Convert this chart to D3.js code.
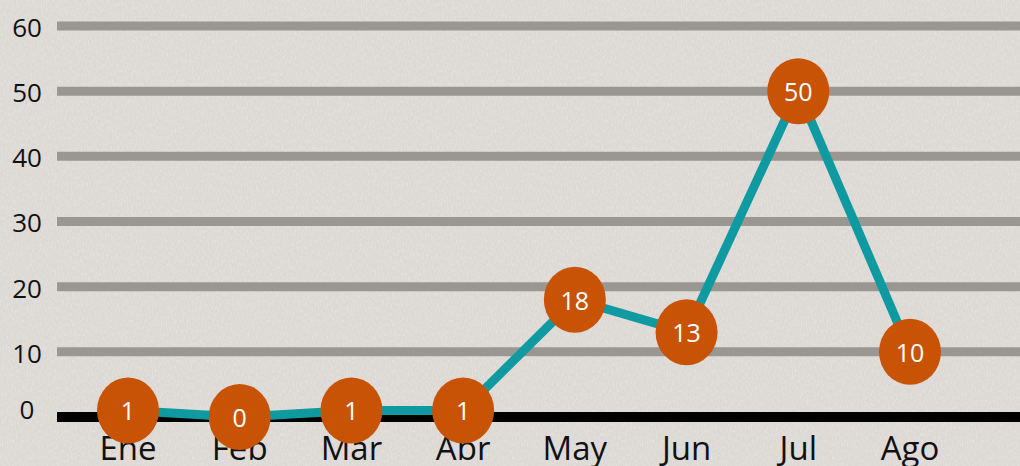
<!DOCTYPE html>
<html>
<head>
<meta charset="utf-8">
<script src="https://cdn.jsdelivr.net/npm/d3@7"></script>
<style>
  html, body { margin: 0; padding: 0; background: #dfdbd7; }
  svg { display: block; font-family: 'Open Sans', sans-serif; }
</style>
</head>
<body>
<svg id="chart" width="1020" height="466"></svg>
<script>
const months = ['Ene', 'Feb', 'Mar', 'Abr', 'May', 'Jun', 'Jul', 'Ago'];
const values = [1, 0, 1, 1, 18, 13, 50, 10];
const yticks = [0, 10, 20, 30, 40, 50, 60];

const width = 1020, height = 466;
const svg = d3.select('#chart');

// paper-like texture
const defs = svg.append('defs');
const filt = defs.append('filter').attr('id', 'paper').attr('x', 0).attr('y', 0).attr('width', '100%').attr('height', '100%');
filt.append('feTurbulence').attr('type', 'fractalNoise').attr('baseFrequency', '0.8 0.3').attr('numOctaves', 2).attr('seed', 3);
filt.append('feColorMatrix').attr('type', 'matrix')
  .attr('values', '0 0 0 0 1  0 0 0 0 1  0 0 0 0 1  0 0 0 0.9 -0.35');
svg.append('rect').attr('width', width).attr('height', height).attr('fill', '#dcd8d4');
svg.append('rect').attr('width', width).attr('height', height).attr('filter', 'url(#paper)').attr('opacity', 0.6);

const x = d3.scalePoint().domain(months).range([128, 910]);
const y = d3.scaleLinear().domain([0, 60]).range([417, 26]);

// gridlines
svg.append('g').selectAll('line').data(yticks.filter(d => d > 0)).join('line')
  .attr('x1', 57).attr('x2', width)
  .attr('y1', d => y(d)).attr('y2', d => y(d))
  .attr('stroke', '#9a9691').attr('stroke-width', 9);

// baseline
svg.append('line')
  .attr('x1', 57).attr('x2', width)
  .attr('y1', y(0)).attr('y2', y(0))
  .attr('stroke', '#000').attr('stroke-width', 10);

// y labels
svg.append('g').selectAll('text').data(yticks).join('text')
  .attr('x', 27).attr('y', d => y(d) + (d === 0 ? -5 : 4))
  .attr('text-anchor', 'middle').attr('dominant-baseline', 'middle')
  .attr('font-size', 26).attr('fill', '#111')
  .text(d => d);

// x labels
svg.append('g').selectAll('text').data(months).join('text')
  .attr('x', d => x(d)).attr('y', 460)
  .attr('text-anchor', 'middle')
  .attr('font-size', 33).attr('fill', '#111')
  .text(d => d);

const pts = months.map((m, i) => ({ month: m, value: values[i] }));

const line = d3.line().x(d => x(d.month)).y(d => y(d.value));
svg.append('path').datum(pts)
  .attr('d', line)
  .attr('fill', 'none')
  .attr('stroke', '#0e9aa0').attr('stroke-width', 9)
  .attr('stroke-linejoin', 'miter');

const dots = svg.append('g').selectAll('g').data(pts).join('g')
  .attr('transform', d => `translate(${x(d.month)},${y(d.value)})`);
dots.append('ellipse').attr('rx', 31).attr('ry', 33).attr('fill', '#c85305');
dots.append('text')
  .attr('text-anchor', 'middle').attr('dominant-baseline', 'central')
  .attr('font-size', 25).attr('fill', '#fff')
  .text(d => d.value);
</script>
</body>
</html>
